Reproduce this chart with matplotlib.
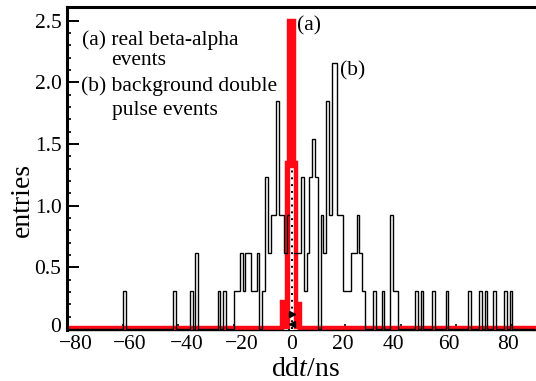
import numpy as np
import matplotlib.pyplot as plt
from matplotlib.ticker import MultipleLocator, FixedLocator, FixedFormatter
from matplotlib.transforms import ScaledTranslation

plt.rcParams['font.family'] = ['Liberation Serif', 'DejaVu Serif']
plt.rcParams['mathtext.fontset'] = 'custom'
plt.rcParams['mathtext.rm'] = 'Liberation Serif'
plt.rcParams['mathtext.it'] = 'Liberation Serif:italic'

# (b) background double pulse events: counts in 1 ns bins, bin k covers [k+0.2, k+1.2)
bkg_bins = [-60, -42, -36, -34, -26, -24, -20, -19, -18, -17, -16, -15, -14, -13,
            -12, -10, -9, -8, -7, -6, -5, -4, -3, -2, -1, 0, 1, 2, 3, 4, 5, 6, 7,
            8, 9, 11, 12, 13, 14, 15, 16, 17, 18, 19, 20, 21, 22, 23, 24, 25, 26,
            30, 33, 36, 37, 38, 45, 47, 51, 56, 64, 68, 70, 73, 77, 79]
bkg_counts = [1, 1, 1, 2, 1, 1, 1, 1, 2, 1, 2, 2, 1, 1,
              2, 1, 4, 2, 3, 3, 6, 3, 3, 2, 3, 2, 2, 2, 2, 4, 1, 2, 4,
              5, 4, 3, 2, 6, 3, 7, 7, 3, 3, 1, 1, 1, 2, 2, 3, 2, 1,
              1, 1, 3, 1, 1, 1, 1, 1, 1, 1, 1, 1, 1, 1, 1]
entry_unit = 0.3085

# (a) real beta-alpha events
red_edges = [-83, -2.7, -0.85, 0.0, 1.6, 2.5, 3.7, 91]
red_vals = [0.012, 0.22, 1.35, 2.5, 1.35, 0.2, 0.012]

# dotted centre marker
mark_x = 0.9
mark_top = 1.29

ytick_vals = [0, 0.5, 1.0, 1.5, 2.0, 2.5]
ytick_labels = ['0', '0.5', '1.0', '1.5', '2.0', '2.5']
xtick_vals = [-80, -60, -40, -20, 0, 20, 40, 60, 80]
xtick_shift = [9, 7.5, 8.5, 8, 2.3, -2, -7.5, -7.3, -3.5]   # label offsets seen in the original, px

W, H = 536, 381
RED = '#ff0a14'
fig = plt.figure(figsize=(W / 100, H / 100), dpi=100)
ax = fig.add_axes([67 / W, 51.5 / H, 469 / W, 323 / H])

ax.stairs(red_vals, red_edges, baseline=0, fill=True, color=RED, lw=0, zorder=2)
ax.stairs(red_vals, red_edges, baseline=None, color=RED, lw=3.2, zorder=2)

edges = np.arange(-82.8, 88.3, 1.0)
ax.hist(np.array(bkg_bins) + 0.7, bins=edges, weights=np.array(bkg_counts) * entry_unit,
        histtype='step', color='black', lw=1.0, zorder=3)

ax.plot([mark_x, mark_x], [0, mark_top], color='white', lw=2.6, zorder=4)
ax.plot([mark_x, mark_x], [0, mark_top], color='black', lw=1.4, ls=(0, (1, 2.5)), zorder=5)
ax.plot([mark_x], [0.12], marker='>', color='black', ms=5, zorder=6)
ax.plot([mark_x], [0.04], marker='<', color='black', ms=4, zorder=6)

ax.set_xlim(-80, 88.7)
ax.set_ylim(-0.004, 2.615)

ax.xaxis.set_major_locator(FixedLocator(xtick_vals))
ax.xaxis.set_minor_locator(MultipleLocator(5))
ax.yaxis.set_major_locator(FixedLocator(ytick_vals))
ax.yaxis.set_major_formatter(FixedFormatter(ytick_labels))
ax.yaxis.set_minor_locator(MultipleLocator(0.1))

ax.spines['right'].set_visible(False)
ax.spines['top'].set_linewidth(2.2)
ax.spines['left'].set_linewidth(2.2)
ax.spines['bottom'].set_linewidth(1.0)

ax.tick_params(axis='y', which='major', direction='in', length=8.6, width=1.4,
               labelsize=15.5, pad=4, right=False)
ax.tick_params(axis='y', which='minor', direction='in', length=3, width=1.2, right=False)
ax.tick_params(axis='x', which='major', direction='in', length=4.5, width=1.2,
               labelsize=15.5, pad=4, top=False)
ax.tick_params(axis='x', which='minor', direction='in', length=2.3, width=1.0, top=False)

for lab, dx in zip(ax.get_xticklabels(), xtick_shift):
    lab.set_transform(lab.get_transform() + ScaledTranslation(dx / 100, 0, fig.dpi_scale_trans))
y0 = ax.get_yticklabels()[0]
y0.set_transform(y0.get_transform() + ScaledTranslation(0, 4 / 100, fig.dpi_scale_trans))

def px(x, y):
    return x / W, 1 - y / H

fs = 15.5
fig.text(*px(81.5, 45), '(a) real beta-alpha', fontsize=fs, va='baseline')
fig.text(*px(111.5, 65), 'events', fontsize=fs, va='baseline')
fig.text(*px(81, 91.5), '(b) background double', fontsize=fs, va='baseline')
fig.text(*px(111.5, 115), 'pulse events', fontsize=fs, va='baseline')
fig.text(*px(297, 30), '(a)', fontsize=fs, va='baseline')
fig.text(*px(340, 75), '(b)', fontsize=fs, va='baseline')

fig.text(*px(22, 200), 'entries', fontsize=20, rotation=90, ha='center', va='center')
fig.text(*px(305, 376), 'dd$t$/ns', fontsize=20, ha='center', va='baseline')

fig.savefig('out.png', dpi=100)
